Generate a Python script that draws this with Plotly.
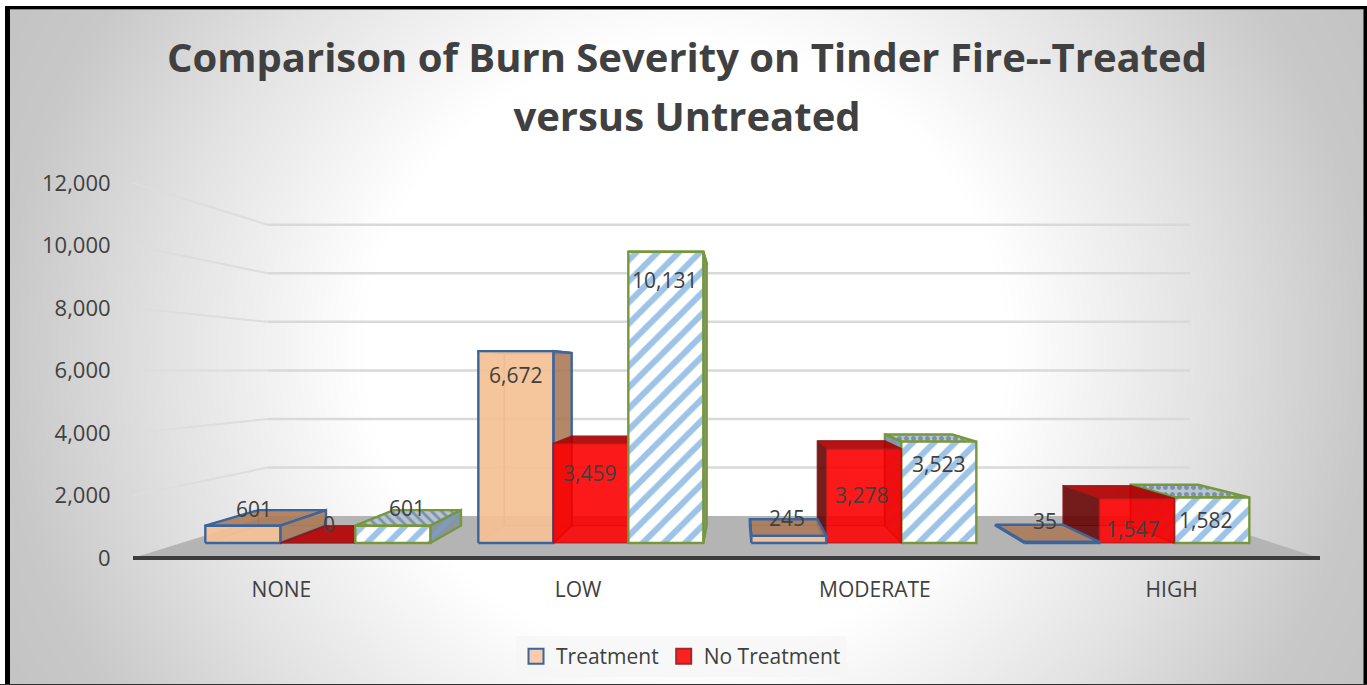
import numpy as np
import plotly.graph_objects as go

# ---------- data ----------
CATEGORIES = ["NONE", "LOW", "MODERATE", "HIGH"]
TREATMENT = [601, 6672, 245, 35]
NO_TREATMENT = [0, 3459, 3278, 1547]
TOTAL = [601, 10131, 3523, 1582]
Y_TICKS = [0, 2000, 4000, 6000, 8000, 10000, 12000]
SERIES_NAMES = ["Treatment", "No Treatment"]
TITLE_LINES = ["Comparison of Burn Severity on Tinder Fire--Treated", "versus Untreated"]

# ---------- page layout (pixels) ----------
W, H = 1367, 685
AX_L, AX_R, AX_TOP, AX_BOT = 133, 1320, 183, 558
AX_EXTRA = 12.5                # pixels kept below zero so the thick base line is not clipped
Y_PX_PER_UNIT = (AX_BOT - AX_TOP) / 12000
TXT = "#404040"
FONT = "Open Sans"

# ---------- perspective of the 3-D scene, in axis units ----------
VP_X, VP_Y = 2.035, 6016.0     # vanishing point
S_WALL = 0.777                 # scale at the back wall
S_FRONT = 0.92                 # scale at the front of the bars
S_BACK = 0.828                 # scale at the back of the bars
BAR_W = 0.2747                 # bar width in category units


def P(c, v, s):
    return VP_X + s * (c - VP_X), VP_Y + s * (v - VP_Y)


fig = go.Figure()

# background gradient lives on its own full-page axes
gx = np.linspace(0, W, 138)
gy = np.linspace(0, H, 70)
XX, YY = np.meshgrid(gx, gy)
R = np.hypot(XX - 685, (YY - 350) * 1.05)
G = np.interp(R, [320, 520, 680, 770], [255, 226, 200, 195])
fig.add_trace(go.Heatmap(x=gx, y=gy, z=G, zmin=0, zmax=255, zsmooth="best", showscale=False,
                         colorscale=[[0, "#000000"], [1, "#ffffff"]], hoverinfo="skip",
                         xaxis="x", yaxis="y"))


def poly(pts, fill=None, line=None, width=0, pattern=None):
    xs = [p[0] for p in pts] + [pts[0][0]]
    ys = [p[1] for p in pts] + [pts[0][1]]
    kw = {}
    if pattern:
        kw["fillpattern"] = pattern
    fig.add_trace(go.Scatter(x=xs, y=ys, mode="lines", fill="toself" if (fill or pattern) else "none",
                             fillcolor=fill, line=dict(color=line or "rgba(0,0,0,0)", width=width),
                             hoverinfo="skip", showlegend=False, xaxis="x2", yaxis="y2", **kw))


def hatch(shape, fg, bg, size, solidity):
    return dict(shape=shape, fgcolor=fg, bgcolor=bg, size=size, solidity=solidity,
                fgopacity=1, fillmode="replace")


# floor
poly([P(0, 0, 1), P(4, 0, 1), P(4, 0, S_WALL), P(0, 0, S_WALL)], fill="#B4B4B4")

# front edge of the floor: the category axis line
a, b = P(0, 0, 1), P(4, 0, 1)
fig.add_trace(go.Scatter(x=[a[0], b[0]], y=[a[1], b[1]], mode="lines", hoverinfo="skip", showlegend=False,
                         line=dict(color="#3C3C3C", width=4), xaxis="x2", yaxis="y2"))

# wall gridlines
for v in Y_TICKS[1:]:
    a, b, c = P(0, v, 1), P(0, v, S_WALL), P(4, v, S_WALL)
    fig.add_trace(go.Scatter(x=[a[0], b[0]], y=[a[1], b[1]], mode="lines", hoverinfo="skip", showlegend=False,
                             line=dict(color="#DDDDDD", width=2), xaxis="x2", yaxis="y2"))
    fig.add_trace(go.Scatter(x=[b[0], c[0]], y=[b[1], c[1]], mode="lines", hoverinfo="skip", showlegend=False,
                             line=dict(color="#D9D9D9", width=2.5), xaxis="x2", yaxis="y2"))

STYLES = [
    dict(front="rgba(246,194,150,0.9)", top="rgba(170,120,85,0.85)", side="rgba(170,120,85,0.85)",
         hidden="rgba(170,120,85,0.25)", edge="#3A659F", hedge="rgba(150,105,75,0.6)", ew=2.4),
    dict(front="rgba(255,0,0,0.87)", top="rgba(180,0,0,0.9)", side="rgba(100,0,0,0.85)",
         hidden="rgba(120,0,0,0.25)", edge="rgba(150,30,30,0.55)", hedge="rgba(120,0,0,0.6)", ew=1.5),
    dict(edge="#77973D", ew=2.4),
]
TOP_SHAPES = ["\\", "\\", ".", "."]


def draw_bar(i, j, v):
    st = STYLES[j]
    c0 = i + 0.5 + (j - 1.5) * BAR_W
    c1 = c0 + BAR_W
    f = [P(c0, 0, S_FRONT), P(c1, 0, S_FRONT), P(c1, v, S_FRONT), P(c0, v, S_FRONT)]
    b = [P(c0, 0, S_BACK), P(c1, 0, S_BACK), P(c1, v, S_BACK), P(c0, v, S_BACK)]
    left_of_vp = c1 < VP_X
    top = [f[3], f[2], b[2], b[3]]
    if left_of_vp:
        vis = [f[1], f[2], b[2], b[1]]
        hid = [f[0], f[3], b[3], b[0]]
    else:
        vis = [f[0], f[3], b[3], b[0]]
        hid = [f[1], f[2], b[2], b[1]]
    e, w = st["edge"], st["ew"]
    if j < 2:
        poly(b, fill=st["hidden"], line=st["hedge"], width=1.2)
        poly(hid, fill=st["hidden"], line=st["hedge"], width=1.2)
        poly(top, fill=st["top"], line=e, width=w)
        poly(vis, fill=st["side"], line=e, width=w)
        poly(f, fill=st["front"], line=e, width=w)
    else:
        poly(top, pattern=hatch(TOP_SHAPES[i], "#7892AE", "#B9C4CF", 7, 0.4), line=e, width=w)
        poly(vis, pattern=hatch("/", "#7C9CC0", "#8A949E", 11, 0.45), line=e, width=w)
        poly(f, pattern=hatch("/", "#9DC3E8", "#FFFFFF", 15, 0.4), line=e, width=w)


SERIES = [TREATMENT, NO_TREATMENT, TOTAL]
for i in range(len(CATEGORIES)):
    order = [0, 1, 2] if i < 2 else [2, 1, 0]
    for j in order:
        draw_bar(i, j, SERIES[j][i])

# legend entries
LEGEND_STYLE = [("#F8CBAD", "#3A659F"), ("#FF2020", "#A02828")]
for name, (fc, lc) in zip(SERIES_NAMES, LEGEND_STYLE):
    fig.add_trace(go.Scatter(x=[None], y=[None], mode="markers", name=name, xaxis="x2", yaxis="y2",
                             marker=dict(symbol="square", size=15, color=fc, line=dict(color=lc, width=2))))

# data labels: anchored at the top-front-centre of each bar, nudged in pixels (dx, dy)
NUDGE = [
    [(11, -17), (11, -19), (14, -18)],
    [(0, 24), (-1, 29), (-1, 28)],
    [(-2, -18), (-2, 46), (0, 22)],
    [(-17, -21), (-4, 31), (-6, 23)],
]
annotations = []
for i in range(len(CATEGORIES)):
    for j in range(3):
        v = SERIES[j][i]
        cx, vy = P(i + 0.5 + (j - 1) * BAR_W, v, S_FRONT)
        dx, dy = NUDGE[i][j]
        annotations.append(dict(x=cx, y=vy, xref="x2", yref="y2", text=f"{v:,}", showarrow=False,
                                xshift=dx, yshift=-dy, font=dict(family=FONT, size=21, color=TXT)))

TITLE_PX, TITLE_GAP = 40, 59
title_text = "<br>".join(f"<span style='font-size:{TITLE_PX}px'>{t}</span>" for t in TITLE_LINES)

fig.update_layout(
    width=W, height=H, autosize=False,
    margin=dict(l=0, r=0, t=0, b=0),
    paper_bgcolor="#FFFFFF", plot_bgcolor="rgba(0,0,0,0)",
    font=dict(family=FONT, color=TXT),
    title=dict(text=title_text, x=687 / W, xanchor="center", y=1 - 72 / H, yanchor="middle",
               font=dict(family=FONT, size=TITLE_GAP / 1.3, color=TXT, weight=700)),
    xaxis=dict(domain=[0, 1], range=[0, W], visible=False, fixedrange=True, automargin=False),
    yaxis=dict(domain=[0, 1], range=[H, 0], visible=False, fixedrange=True, automargin=False),
    xaxis2=dict(domain=[AX_L / W, AX_R / W], range=[0, 4], anchor="y2", showgrid=False, zeroline=False,
                tickmode="array", tickvals=[i + 0.5 for i in range(4)], ticktext=CATEGORIES,
                ticks="outside", tickcolor="rgba(0,0,0,0)", ticklen=0, automargin=False,
                tickfont=dict(family=FONT, size=21, color=TXT), showline=False),
    yaxis2=dict(domain=[1 - (AX_BOT + AX_EXTRA) / H, 1 - AX_TOP / H],
                range=[-AX_EXTRA / Y_PX_PER_UNIT, 12000], anchor="x2", showgrid=False,
                zeroline=False, tickmode="array", tickvals=Y_TICKS, tickformat=",", automargin=False,
                ticks="outside", tickcolor="rgba(0,0,0,0)", ticklen=17, showline=False,
                tickfont=dict(family=FONT, size=22, color=TXT)),
    legend=dict(orientation="h", x=681 / W, xanchor="center", y=8 / H, yanchor="bottom",
                bgcolor="rgba(245,245,245,0.7)", font=dict(family=FONT, size=21, color=TXT)),
    annotations=annotations,
    shapes=[
        dict(type="rect", xref="paper", yref="paper", x0=0, x1=5 / W, y0=0, y1=1, fillcolor="#FFFFFF", line_width=0),
        dict(type="rect", xref="paper", yref="paper", x0=0, x1=1, y0=1 - 6 / H, y1=1, fillcolor="#FFFFFF", line_width=0),
        dict(type="rect", xref="paper", yref="paper", x0=5 / W, x1=10 / W, y0=0, y1=1 - 6 / H, fillcolor="#000000", line_width=0),
        dict(type="rect", xref="paper", yref="paper", x0=5 / W, x1=1, y0=1 - 9 / H, y1=1 - 6 / H, fillcolor="#000000", line_width=0),
        dict(type="rect", xref="paper", yref="paper", x0=10 / W, x1=1363 / W, y0=1 - 10 / H, y1=1 - 9 / H, fillcolor="#8A8A8A", line_width=0),
        dict(type="rect", xref="paper", yref="paper", x0=1363.5 / W, x1=1, y0=0, y1=1 - 6 / H, fillcolor="#000000", line_width=0),
        dict(type="rect", xref="paper", yref="paper", x0=0, x1=1, y0=0, y1=1 / H, fillcolor="#303030", line_width=0),
    ],
)

fig.write_html("out.html", post_script="document.body.style.margin='0';document.body.style.overflow='hidden';",
               config={"displayModeBar": False})
